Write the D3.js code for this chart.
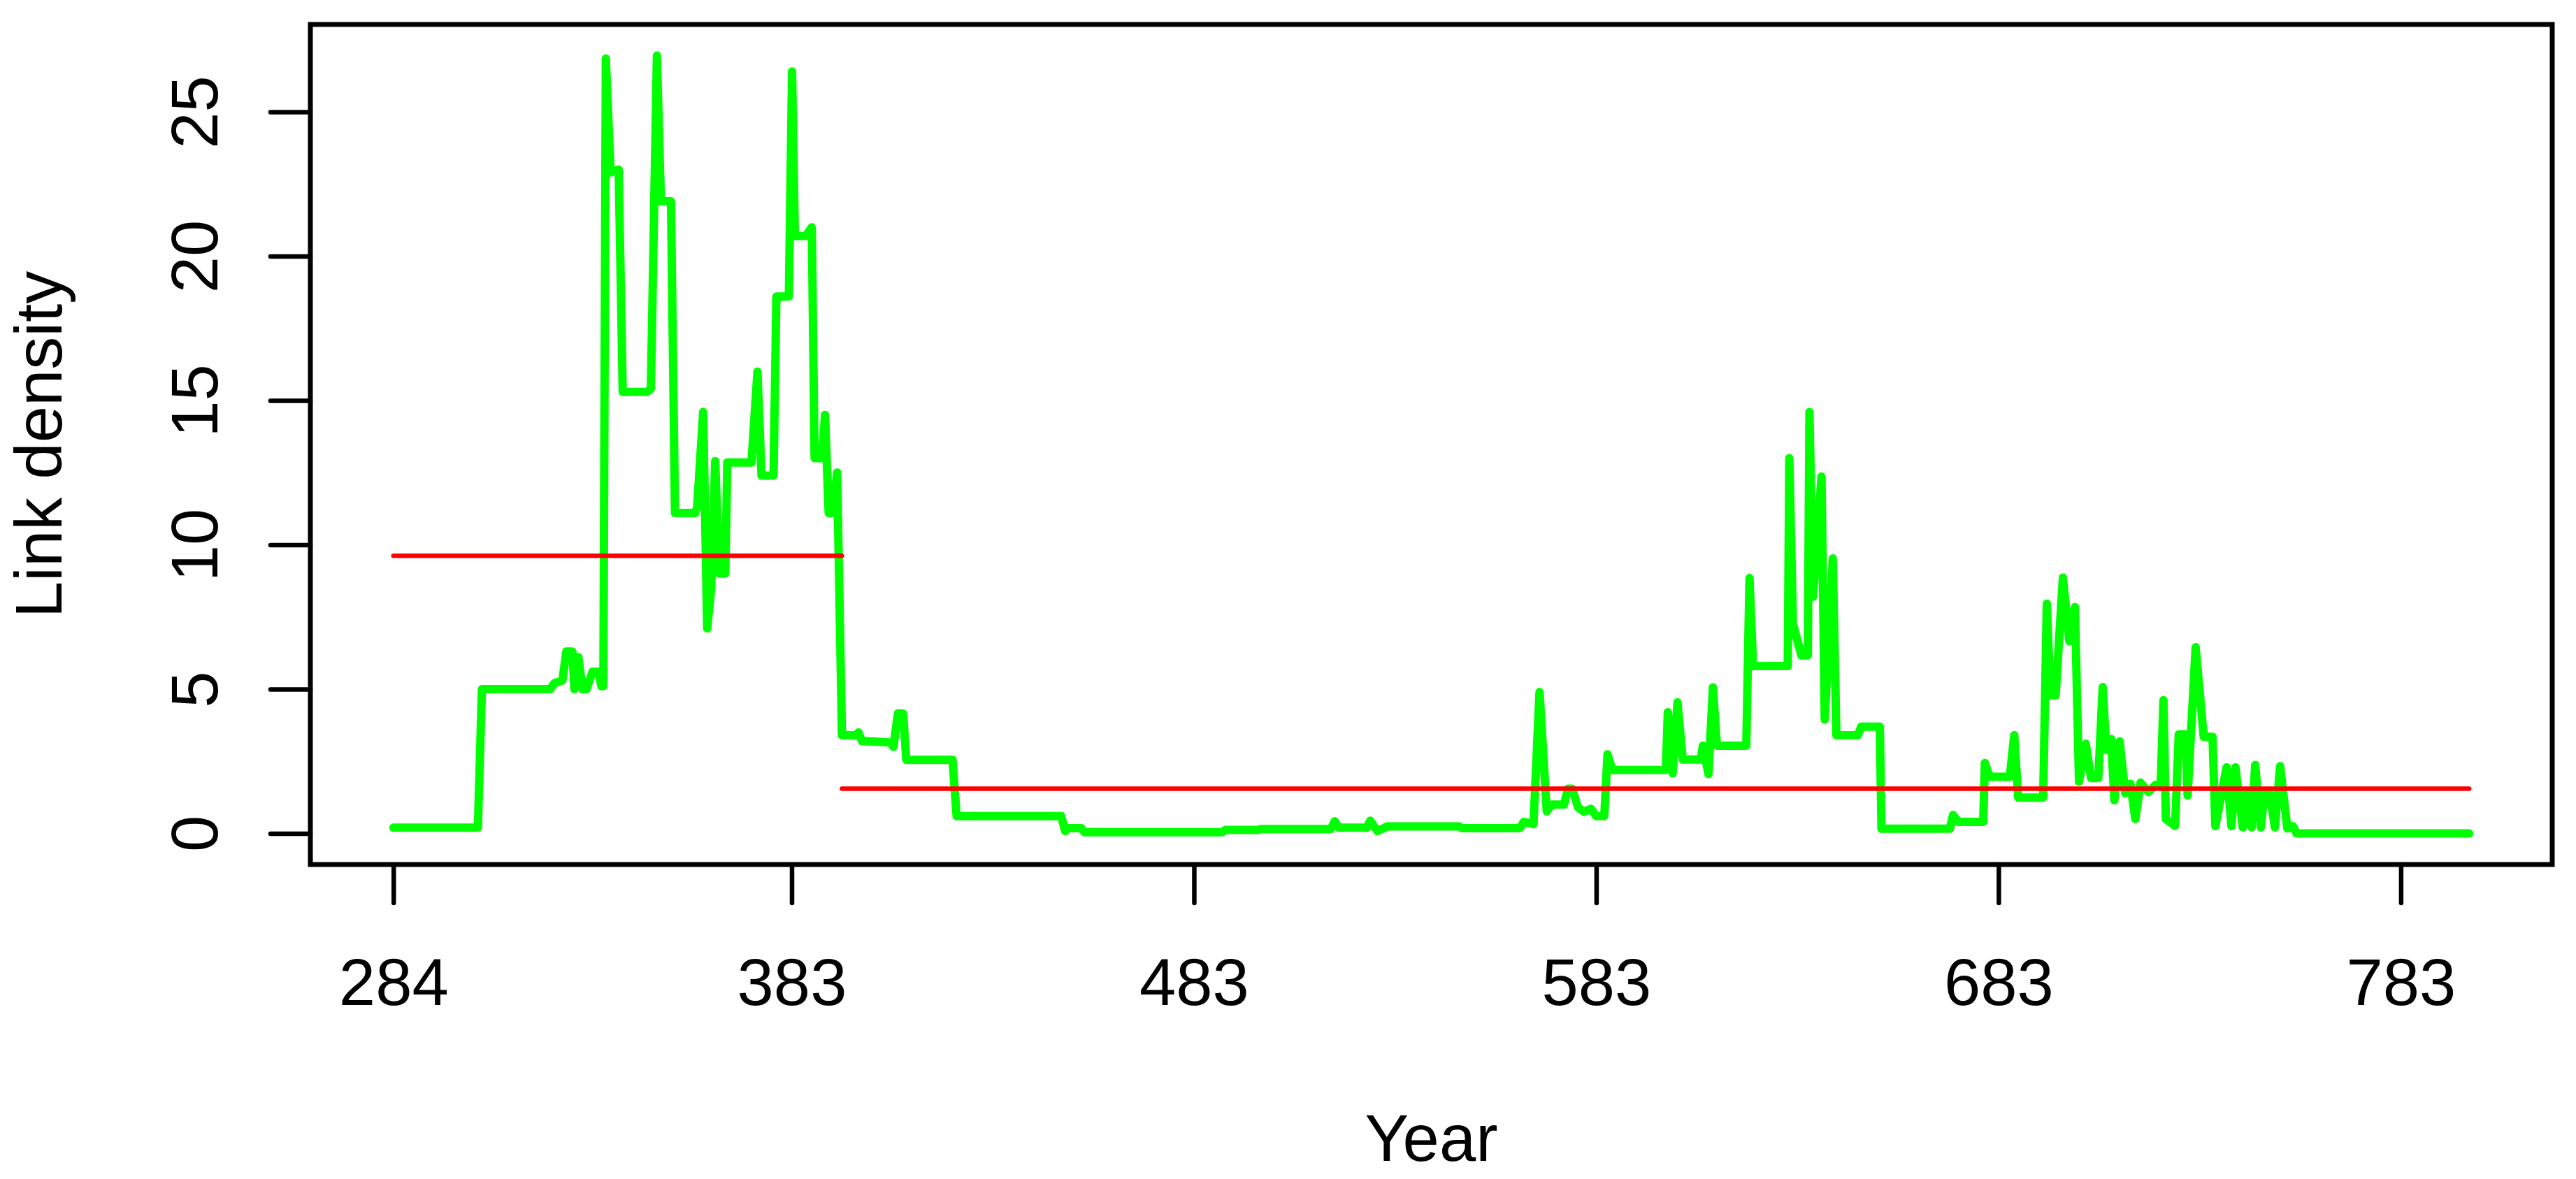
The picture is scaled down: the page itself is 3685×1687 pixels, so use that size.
<!DOCTYPE html>
<html>
<head>
<meta charset="utf-8">
<script src="https://cdn.jsdelivr.net/npm/d3@7"></script>
<style>
  html, body { margin: 0; padding: 0; background: #fff; }
  svg { display: block; }
</style>
</head>
<body>
<div id="chart"></div>
<script>
// breakpoints of the link density series
const years = [
  284, 305, 306, 323, 324, 326, 327, 328.5, 329, 330, 331, 332, 333.5, 335, 335.7, 336.2,
  336.8, 338, 340, 341, 347, 348, 349.5, 350.5, 353, 354, 359, 359.5, 361, 362, 363, 364,
  365, 366.5, 367, 373, 374.5, 375.5, 378.5, 379.2, 382.3, 383.1, 383.8, 386.5, 388, 388.7,
  390.5, 391.3, 392.2, 393.2, 394.3, 395.5, 399, 399.6, 400.5, 407.5, 408.3, 409.4, 410.7,
  411.5, 423, 424, 450, 451, 451.6, 455, 455.8, 490, 490.8, 499, 499.5, 517, 518, 519, 526,
  526.8, 528.6, 531, 549, 549.5, 564, 565, 567.4, 568.9, 570.7, 572, 575, 576, 577, 578.5,
  580, 581.7, 583, 585, 585.8, 587, 600.3, 600.8, 602, 603.2, 604.5, 609, 609.5, 610.9, 612,
  613, 620.3, 621.1, 622, 630.6, 631, 631.9, 634, 635.6, 636, 636.9, 639, 639.8, 641.8,
  642.7, 648, 648.9, 653.5, 653.9, 670.9, 671.7, 673, 679.2, 679.6, 680.8, 685.8, 686.9,
  687.9, 694.1, 695, 695.9, 697.2, 699, 700.6, 702, 703, 704.7, 706, 707.8, 708.9, 709.8,
  711, 711.8, 713.1, 714.5, 715.8, 717, 718.3, 720.3, 722, 723.3, 724, 724.6, 726.9, 727.8,
  729.5, 730, 732, 734, 736.2, 736.9, 739.7, 740.9, 741.9, 743.7, 744.6, 745.9, 746.8, 748.2,
  749.1, 750.4, 751.7, 753, 754.8, 756.2, 757.1, 800
];
const density = [
  0.2, 0.2, 5.0, 5.0, 5.2, 5.3, 6.3, 6.3, 5.0, 6.1, 5.0, 5.0, 5.6, 5.6, 5.1, 5.1,
  26.85, 22.9, 23.0, 15.3, 15.3, 15.4, 26.95, 21.9, 21.9, 11.1, 11.1, 11.3, 14.6, 7.1, 8.5, 12.9,
  9.0, 9.0, 12.85, 12.85, 16.0, 12.4, 12.4, 18.6, 18.6, 26.4, 20.7, 20.7, 21.0, 13.0,
  13.0, 14.5, 11.1, 11.1, 12.5, 3.4, 3.4, 3.5, 3.2, 3.15, 3.0, 4.15, 4.15,
  2.55, 2.55, 0.6, 0.6, 0.08, 0.18, 0.18, 0.04, 0.04, 0.12, 0.12, 0.15, 0.15, 0.42, 0.2, 0.2,
  0.44, 0.08, 0.24, 0.24, 0.18, 0.18, 0.4, 0.32, 4.9, 0.77, 1.0, 1.0, 1.55, 1.55, 0.9,
  0.75, 0.85, 0.6, 0.6, 2.74, 2.2, 2.2, 4.2, 2.08, 4.54, 2.56, 2.56, 3.04, 2.06, 5.06,
  3.04, 3.04, 8.85, 5.8, 5.8, 13.0, 7.25, 6.17, 6.17, 14.6, 8.2, 12.36, 3.94, 9.53,
  3.4, 3.4, 3.7, 3.7, 0.16, 0.16, 0.64, 0.4, 0.4, 2.44, 1.96, 1.96, 3.4,
  1.24, 1.24, 7.96, 4.78, 4.78, 8.86, 6.66, 7.84, 1.8, 3.1, 1.92, 1.92, 5.07, 2.9,
  3.27, 1.15, 3.19, 1.39, 1.72, 0.5, 1.76, 1.43, 1.68, 1.68, 4.62, 0.5, 0.26, 3.43,
  3.43, 1.31, 6.45, 3.35, 3.35, 0.25, 2.29, 0.25, 2.29, 0.21, 1.39, 0.21, 2.37, 0.21,
  1.39, 1.39, 0.21, 2.33, 0.17, 0.25, 0.0, 0.0
];

// period means (red segments)
const periodStart = [284, 395.5];
const periodEnd = [395.5, 800];
const periodMean = [9.62, 1.55];

const xTicks = [284, 383, 483, 583, 683, 783];
const yTicks = [0, 5, 10, 15, 20, 25];

const width = 3685;
const height = 1687;
const box = { left: 444, right: 3651, top: 35, bottom: 1237 };
const font = "'Liberation Sans', Arial, Helvetica, sans-serif";
const fontSize = 94;

// R style axis ranges: data extent padded by 4% on each side
const xExt = d3.extent(years);
const xPad = (xExt[1] - xExt[0]) * 0.04;
const yExt = d3.extent(density);
const yPad = (yExt[1] - yExt[0]) * 0.04;

const x = d3.scaleLinear()
  .domain([xExt[0] - xPad, xExt[1] + xPad])
  .range([box.left, box.right]);
const y = d3.scaleLinear()
  .domain([yExt[0] - yPad, yExt[1] + yPad])
  .range([box.bottom, box.top]);

const svg = d3.select("#chart")
  .append("svg")
  .attr("width", width)
  .attr("height", height)
  .attr("viewBox", [0, 0, width, height])
  .style("font-family", font);

svg.append("rect")
  .attr("width", width)
  .attr("height", height)
  .attr("fill", "#fff");

const series = years.map((yr, i) => [yr, density[i]]);

const line = d3.line()
  .x(d => x(d[0]))
  .y(d => y(d[1]));

svg.append("path")
  .datum(series)
  .attr("fill", "none")
  .attr("stroke", "#00ff00")
  .attr("stroke-width", 12)
  .attr("stroke-linejoin", "round")
  .attr("stroke-linecap", "round")
  .attr("d", line);

// mean lines per period
svg.append("g")
  .selectAll("line")
  .data(periodMean)
  .join("line")
  .attr("x1", (d, i) => x(periodStart[i]))
  .attr("x2", (d, i) => x(periodEnd[i]))
  .attr("y1", d => y(d))
  .attr("y2", d => y(d))
  .attr("stroke", "#ff0000")
  .attr("stroke-width", 6.5)
  .attr("stroke-linecap", "round");

// x axis
const gx = svg.append("g")
  .attr("transform", `translate(0,${box.bottom})`)
  .call(d3.axisBottom(x).tickValues(xTicks).tickFormat(d3.format("d")).tickSize(55));
gx.select(".domain").remove();
gx.selectAll(".tick line")
  .attr("stroke", "#000")
  .attr("stroke-width", 6.5)
  .attr("stroke-linecap", "round");
gx.selectAll(".tick text")
  .attr("y", 1438 - box.bottom)
  .attr("dy", 0)
  .attr("fill", "#000")
  .style("font-size", fontSize + "px")
  .style("font-family", font);

// y axis
const gy = svg.append("g")
  .attr("transform", `translate(${box.left},0)`)
  .call(d3.axisLeft(y).tickValues(yTicks).tickSize(57));
gy.select(".domain").remove();
gy.selectAll(".tick line")
  .attr("stroke", "#000")
  .attr("stroke-width", 6.5)
  .attr("stroke-linecap", "round");
gy.selectAll(".tick text")
  .attr("x", 0)
  .attr("dy", 0)
  .attr("text-anchor", "middle")
  .attr("transform", `translate(${311 - box.left},0) rotate(-90)`)
  .attr("fill", "#000")
  .style("font-size", fontSize + "px")
  .style("font-family", font);

// plot frame
svg.append("rect")
  .attr("x", box.left)
  .attr("y", box.top)
  .attr("width", box.right - box.left)
  .attr("height", box.bottom - box.top)
  .attr("fill", "none")
  .attr("stroke", "#000")
  .attr("stroke-width", 7);

// axis titles
svg.append("text")
  .attr("x", (box.left + box.right) / 2)
  .attr("y", 1661)
  .attr("text-anchor", "middle")
  .style("font-size", fontSize + "px")
  .text("Year");

svg.append("text")
  .attr("transform", `translate(88,${(box.top + box.bottom) / 2}) rotate(-90)`)
  .attr("text-anchor", "middle")
  .style("font-size", fontSize + "px")
  .text("Link density");
</script>
</body>
</html>
